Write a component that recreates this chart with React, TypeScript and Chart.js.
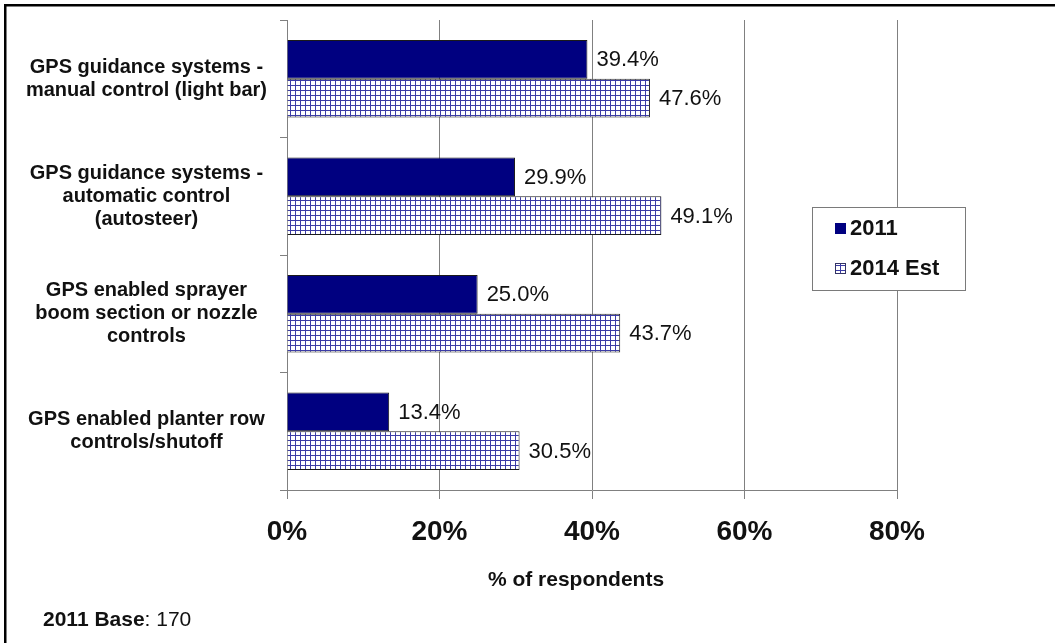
import React, { useEffect, useRef } from "react";
import { Chart, registerables } from "chart.js";

Chart.register(...registerables);

const categories: string[][] = [
  ["GPS guidance systems -", "manual control (light bar)"],
  ["GPS guidance systems -", "automatic control", "(autosteer)"],
  ["GPS enabled sprayer", "boom section or nozzle", "controls"],
  ["GPS enabled planter row", "controls/shutoff"],
];
const series2011: number[] = [39.4, 29.9, 25.0, 13.4];
const series2014: number[] = [47.6, 49.1, 43.7, 30.5];
const seriesNames: string[] = ["2011", "2014 Est"];
const xTicks: number[] = [0, 20, 40, 60, 80];
const axisTitle = "% of respondents";
const noteBold = "2011 Base";
const noteRest = ": 170";

const FONT = "'Liberation Sans', Arial, sans-serif";
const NAVY = "#000080";

function makePattern(): CanvasPattern | string {
  const c = document.createElement("canvas");
  c.width = 5;
  c.height = 5;
  const g = c.getContext("2d");
  if (!g) return "#ccccee";
  g.fillStyle = "#ffffff";
  g.fillRect(0, 0, 5, 5);
  g.fillStyle = "#3c3ca6";
  g.fillRect(0, 0, 5, 1);
  g.fillRect(0, 0, 1, 5);
  const p = g.createPattern(c, "repeat");
  return p || "#ccccee";
}

export default function App() {
  const ref = useRef<HTMLCanvasElement | null>(null);

  useEffect(() => {
    if (!ref.current) return;
    const pattern = makePattern();

    const framePlugin = {
      id: "frame",
      beforeDraw(chart: any) {
        const ctx = chart.ctx;
        ctx.save();
        ctx.fillStyle = "#ffffff";
        ctx.fillRect(0, 0, chart.width, chart.height);
        ctx.strokeStyle = "#000000";
        ctx.lineWidth = 2.5;
        ctx.beginPath();
        ctx.moveTo(5.25, chart.height);
        ctx.lineTo(5.25, 5.25);
        ctx.lineTo(chart.width, 5.25);
        ctx.stroke();
        ctx.restore();
      },
    };

    const labelsPlugin = {
      id: "barLabels",
      afterDatasetsDraw(chart: any) {
        const ctx = chart.ctx;
        ctx.save();
        ctx.font = `22px ${FONT}`;
        ctx.fillStyle = "#111111";
        ctx.textAlign = "left";
        ctx.textBaseline = "middle";
        chart.data.datasets.forEach((ds: any, di: number) => {
          const meta = chart.getDatasetMeta(di);
          meta.data.forEach((el: any, i: number) => {
            const v = ds.data[i] as number;
            ctx.fillText(v.toFixed(1) + "%", el.x + 9, el.y + 1);
          });
        });
        ctx.restore();
      },
    };

    const extrasPlugin = {
      id: "extras",
      afterDraw(chart: any) {
        const ctx = chart.ctx;
        ctx.save();
        // legend
        ctx.strokeStyle = "#7a7a7a";
        ctx.lineWidth = 1;
        ctx.fillStyle = "#ffffff";
        ctx.fillRect(812.5, 207.5, 153, 83);
        ctx.strokeRect(812.5, 207.5, 153, 83);
        ctx.font = `bold 22px ${FONT}`;
        ctx.textBaseline = "middle";
        ctx.textAlign = "left";
        ctx.fillStyle = NAVY;
        ctx.fillRect(835, 223, 11, 11);
        ctx.fillStyle = "#111111";
        ctx.fillText(seriesNames[0], 850, 229);
        ctx.fillStyle = pattern as any;
        ctx.fillRect(835, 263, 11, 11);
        ctx.strokeStyle = "#333366";
        ctx.strokeRect(835.5, 263.5, 10, 10);
        ctx.fillStyle = "#111111";
        ctx.fillText(seriesNames[1], 850, 269);

        // axis title
        ctx.font = `bold 21px ${FONT}`;
        ctx.textAlign = "center";
        ctx.fillText(axisTitle, 576, 580);

        // note
        ctx.textAlign = "left";
        ctx.textBaseline = "alphabetic";
        ctx.font = `bold 21px ${FONT}`;
        ctx.fillText(noteBold, 43, 626);
        const w = ctx.measureText(noteBold).width;
        ctx.font = `21px ${FONT}`;
        ctx.fillText(noteRest, 43 + w, 626);
        ctx.restore();
      },
    };

    const chart = new Chart(ref.current, {
      type: "bar",
      data: {
        labels: categories,
        datasets: [
          {
            label: seriesNames[0],
            data: series2011,
            backgroundColor: NAVY,
            borderColor: "#1a1a1a",
            borderWidth: 1,
            categoryPercentage: 0.66,
            barPercentage: 1,
          },
          {
            label: seriesNames[1],
            data: series2014,
            backgroundColor: pattern as any,
            borderColor: "#1a1a1a",
            borderWidth: 1,
            categoryPercentage: 0.66,
            barPercentage: 1,
          },
        ],
      },
      options: {
        indexAxis: "y",
        responsive: false,
        animation: false,
        layout: { padding: { left: 0, top: 20, right: 158, bottom: 0 } },
        plugins: {
          legend: { display: false },
          tooltip: { enabled: false },
          title: { display: false },
        },
        scales: {
          x: {
            type: "linear",
            min: 0,
            max: 80,
            afterFit(scale: any) {
              scale.height = 153;
              scale.paddingLeft = 0;
              scale.paddingRight = 0;
            },
            afterBuildTicks(scale: any) {
              scale.ticks = xTicks.map((v) => ({ value: v }));
            },
            grid: {
              color: "#808080",
              lineWidth: 1,
              drawTicks: true,
              tickLength: 9,
              tickColor: "#808080",
            },
            border: { display: true, color: "#808080", width: 1 },
            ticks: {
              padding: 16,
              color: "#111111",
              font: { family: FONT, size: 28, weight: "bold" },
              callback: (v: any) => v + "%",
            },
          },
          y: {
            type: "category",
            afterFit(scale: any) {
              scale.width = 287;
              scale.paddingTop = 0;
              scale.paddingBottom = 0;
            },
            grid: {
              offset: true,
              drawOnChartArea: false,
              drawTicks: true,
              tickLength: 7,
              tickColor: "#808080",
              color: "#808080",
            },
            border: { display: true, color: "#808080", width: 1 },
            ticks: {
              crossAlign: "center",
              padding: 13,
              color: "#111111",
              font: { family: FONT, size: 20, weight: "bold", lineHeight: 1.15 },
            },
          },
        },
      },
      plugins: [framePlugin, labelsPlugin, extrasPlugin],
    } as any);

    return () => chart.destroy();
  }, []);

  return (
    <div style={{ position: "fixed", left: 0, top: 0, width: 1055, height: 643, background: "#fff" }}>
      <canvas ref={ref} width={1055} height={643} style={{ display: "block", width: 1055, height: 643 }} />
    </div>
  );
}
